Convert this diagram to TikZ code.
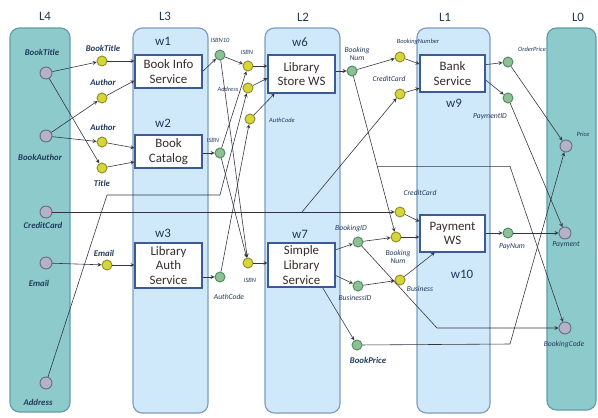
\documentclass[tikz,border=0pt]{standalone}
\usepackage{fontspec}
\setmainfont{Carlito}
\usepackage{tikz}
\usetikzlibrary{arrows}

\definecolor{tealFill}{HTML}{8DCACB}
\definecolor{tealLine}{HTML}{5F9EA6}
\definecolor{blueFill}{HTML}{CFE8FA}
\definecolor{blueLine}{HTML}{7E9CC2}
\definecolor{boxLine}{HTML}{3D5A98}
\definecolor{boxText}{HTML}{3A2C2C}
\definecolor{greenFill}{HTML}{8DC092}
\definecolor{greenLine}{HTML}{4E8A66}
\definecolor{yellowFill}{HTML}{D6D63A}
\definecolor{yellowLine}{HTML}{8E8E28}
\definecolor{portFill}{HTML}{B4B2C6}
\definecolor{portLine}{HTML}{6A6A8C}
\definecolor{lblText}{HTML}{1F3A5A}
\definecolor{wire}{HTML}{333340}

\tikzset{
  lane/.style={rounded corners=8pt, line width=1pt},
  tealLane/.style={lane, fill=tealFill, draw=tealLine},
  blueLane/.style={lane, fill=blueFill, draw=blueLine},
  laneTitle/.style={font=\fontsize{11}{12}\selectfont, text=lblText},
  wTitle/.style={font=\fontsize{11}{12}\selectfont, text=lblText, inner sep=1pt},
  svc/.style={draw=boxLine, fill=white, line width=0.9pt, inner sep=0pt,
    minimum width=2.01cm, align=center, text=boxText,
    font=\fontsize{11}{12.5}\selectfont},
  port/.style={circle, draw=portLine, fill=portFill, line width=0.8pt,
    minimum size=0.36cm, inner sep=0pt},
  inPar/.style={circle, draw=yellowLine, fill=yellowFill, line width=0.8pt,
    minimum size=0.3cm, inner sep=0pt},
  outPar/.style={circle, draw=greenLine, fill=greenFill, line width=0.8pt,
    minimum size=0.3cm, inner sep=0pt},
  bigLbl/.style={font=\fontsize{7.5}{8}\selectfont\itshape\bfseries, text=lblText, inner sep=0pt},
  midLbl/.style={font=\fontsize{6.5}{7}\selectfont\itshape, text=lblText, inner sep=0pt, align=center},
  tinyLbl/.style={font=\fontsize{5.5}{6}\selectfont\itshape, text=lblText, inner sep=0pt},
  link/.style={->, draw=wire, line width=0.5pt}
}

\begin{document}
\begin{tikzpicture}[x=0.03cm, y=-0.03cm, >=stealth]
  \useasboundingbox (0,0) rectangle (598,417);

  % lanes
  \draw[tealLane] (10,28) rectangle (70,412);
  \draw[blueLane] (133,28) rectangle (208,413);
  \draw[blueLane] (265,28) rectangle (340,413);
  \draw[blueLane] (417,28) rectangle (490,413);
  \draw[tealLane] (547,28) rectangle (596,410);
  \node[laneTitle] (l4) at (45,16) {L4};
  \node[laneTitle] (l3) at (165,16) {L3};
  \node[laneTitle] (l2) at (303,17) {L2};
  \node[laneTitle] (l1) at (445,17) {L1};
  \node[laneTitle] (l0) at (578,17) {L0};

  % services
  \node[svc, minimum height=0.99cm] (w1) at (168.5,71.5) {Book Info\\Service};
  \node[svc, minimum height=0.99cm] (w2) at (168.5,151.5) {Book\\Catalog};
  \node[svc, minimum height=1.35cm] (w3) at (168.5,265.5) {Library\\Auth\\Service};
  \node[svc, minimum height=1.14cm] (w6) at (301.5,74) {Library\\Store WS};
  \node[svc, minimum height=1.32cm] (w7) at (301.5,265) {Simple\\Library\\Service};
  \node[svc, minimum width=1.95cm, minimum height=1.11cm] (w9) at (452.5,73.5) {Bank\\Service};
  \node[svc, minimum width=1.95cm, minimum height=1.11cm] (w10) at (452.5,233.5) {Payment\\WS};
  \node[wTitle] (w1t) at (163,41) {w1};
  \node[wTitle] (w2t) at (163,123) {w2};
  \node[wTitle] (w3t) at (163,233) {w3};
  \node[wTitle] (w6t) at (300,42) {w6};
  \node[wTitle] (w7t) at (300,234) {w7};
  \node[wTitle] (w9t) at (454,103) {w9};
  \node[wTitle] (w10t) at (462,274) {w10};

  % L4 ports
  \node[port] (bookTitle) at (46,73) {};
  \node[port] (bookAuthor) at (46,136) {};
  \node[port] (creditCard) at (46,212) {};
  \node[port] (email) at (46,263) {};
  \node[port] (address) at (46,383) {};
  \node[bigLbl] at (42,52) {BookTitle};
  \node[bigLbl] at (40,157) {BookAuthor};
  \node[bigLbl] at (43,225) {CreditCard};
  \node[bigLbl] at (39,283) {Email};
  \node[bigLbl] at (38,402) {Address};

  % L0 ports
  \node[port] (price) at (566,146) {};
  \node[port] (payment) at (565,233) {};
  \node[port] (bookingCode) at (565,328) {};
  \node[tinyLbl] at (583,134) {Price};
  \node[midLbl] at (566,245) {Payment};
  \node[midLbl] at (564,345) {BookingCode};

  % inputs of L3
  \node[inPar] (inTitle) at (102,61) {};
  \node[inPar] (inAuthorA) at (102,98) {};
  \node[inPar] (inAuthorB) at (102,142) {};
  \node[inPar] (inTitleB) at (102,168) {};
  \node[inPar] (inEmail) at (107,265) {};
  \node[bigLbl] at (103,48) {BookTitle};
  \node[bigLbl] at (103,82) {Author};
  \node[bigLbl] at (103,127) {Author};
  \node[bigLbl] at (102,183) {Title};
  \node[bigLbl] at (104,253) {Email};

  % outputs of L3
  \node[outPar] (outIsbnTen) at (220,55) {};
  \node[outPar] (outIsbn) at (220,153) {};
  \node[outPar] (outAuth) at (220,277) {};
  \node[tinyLbl] at (220,40) {ISBN10};
  \node[tinyLbl] at (213,140) {ISBN};
  \node[midLbl] at (229,297) {AuthCode};

  % inputs of L2
  \node[inPar] (inIsbn) at (248,66) {};
  \node[inPar] (inAddress) at (248,88) {};
  \node[inPar] (inAuth) at (250,119) {};
  \node[inPar] (inIsbnB) at (248,263) {};
  \node[tinyLbl] at (247,52) {ISBN};
  \node[tinyLbl] at (228,89) {Address};
  \node[tinyLbl] at (282,120) {AuthCode};
  \node[tinyLbl] at (250,280) {ISBN};

  % outputs of L2
  \node[outPar] (outBookNum) at (352,71) {};
  \node[outPar] (outBookId) at (358,242) {};
  \node[outPar] (outBusId) at (358,286) {};
  \node[outPar] (outPrice) at (357,345) {};
  \node[midLbl] at (357,54) {Booking\\Num};
  \node[midLbl] at (351,229) {BookingID};
  \node[midLbl] at (355,298) {BusinessID};
  \node[bigLbl] at (368,360) {BookPrice};

  % inputs of L1
  \node[inPar] (inBookNum) at (400,57) {};
  \node[inPar] (inCard) at (400,94) {};
  \node[inPar] (inCardB) at (400,212) {};
  \node[inPar] (inBookNumB) at (396,237) {};
  \node[inPar] (inBus) at (400,280) {};
  \node[tinyLbl] at (418,42) {BookingNumber};
  \node[midLbl] at (389,79) {CreditCard};
  \node[midLbl] at (420,193) {CreditCard};
  \node[midLbl] at (398,257) {Booking\\Num};
  \node[midLbl] at (420,289) {Business};

  % outputs of L1
  \node[outPar] (outOrder) at (508,62) {};
  \node[outPar] (outPayId) at (508,98) {};
  \node[outPar] (outPayNum) at (508,233) {};
  \node[tinyLbl] at (532,49) {OrderPrice};
  \node[midLbl] at (490,117) {PaymentID};
  \node[midLbl] at (512,247) {PayNum};

  % bends
  \coordinate (addrBend) at (107,195);
  \coordinate (addrBendB) at (220,195);
  \coordinate (cardSplit) at (302,212);
  \coordinate (codeBend) at (510,167);
  \coordinate (idBend) at (437,328);
  \coordinate (priceBend) at (510,344);

  % L4 -> L3
  \draw[link] (bookTitle) -- (inTitle);
  \draw[link] (bookTitle) -- (inTitleB);
  \draw[link] (bookAuthor) -- (inAuthorA);
  \draw[link] (bookAuthor) -- (inAuthorB);
  \draw[link] (email) -- (inEmail);
  \draw[link] (creditCard) -- (inCardB);
  \draw[link] (cardSplit) -- (inCard);
  \draw[link] (address) -- (addrBend) -- (addrBendB) -- (inAddress);
  \draw[link] (inTitle) -- (inTitle -| w1.west);
  \draw[link] (inAuthorA) -- (w1.195);
  \draw[link] (inAuthorB) -- (w2.174);
  \draw[link] (inTitleB) -- (w2.197);
  \draw[link] (inEmail) -- (inEmail -| w3.west);

  % L3 -> L2
  \draw[link] (w1.east) -- (outIsbnTen);
  \draw[link] (w2.east |- outIsbn) -- (outIsbn);
  \draw[link] (w3.east |- outAuth) -- (outAuth);
  \draw[link] (outIsbnTen) -- (inIsbn);
  \draw[link] (outIsbnTen) -- (inIsbnB);
  \draw[link] (outIsbn) -- (inIsbnB);
  \draw[link] (outIsbn) -- (inIsbn);
  \draw[link] (outAuth) -- (inAuth);
  \draw[link] (inIsbn) -- (inIsbn -| w6.west);
  \draw[link] (inAddress) -- (w6.187);
  \draw[link] (inAuth) -- (w6.216);
  \draw[link] (inIsbnB) -- (inIsbnB -| w7.west);

  % L2 -> L1
  \draw[link] (w6.east |- outBookNum) -- (outBookNum);
  \draw[link] (w7.24) -- (outBookId);
  \draw[link] (w7.343) -- (outBusId);
  \draw[link] (w7.313) -- (outPrice);
  \draw[link] (outBookNum) -- (inBookNum);
  \draw[link] (outBookNum) -- coordinate[pos=0.58] (codeSplit) (inBookNumB);
  \draw[link] (outBookId) -- (inBookNumB);
  \draw[link] (outBusId) -- (inBus);
  \draw[link] (inBookNum) -- (w9.164);
  \draw[link] (inCard) -- (w9.204);
  \draw[link] (inCardB) -- (w10.160);
  \draw[link] (inBookNumB) -- (inBookNumB -| w10.west);
  \draw[link] (inBus) -- (w10.227);

  % L1 -> L0
  \draw[link] (w9.15) -- (outOrder);
  \draw[link] (w9.349) -- (outPayId);
  \draw[link] (w10.east |- outPayNum) -- (outPayNum);
  \draw[link] (outOrder) -- (price);
  \draw[link] (outPayId) -- (payment);
  \draw[link] (outPayNum) -- (payment);
  \draw[link] (outPrice) -- (priceBend) -- (price);
  \draw[link] (outBookId) -- (idBend) -- (bookingCode);
  \draw[link] (codeSplit) -- (codeSplit -| codeBend) -- (bookingCode);
\end{tikzpicture}
\end{document}
